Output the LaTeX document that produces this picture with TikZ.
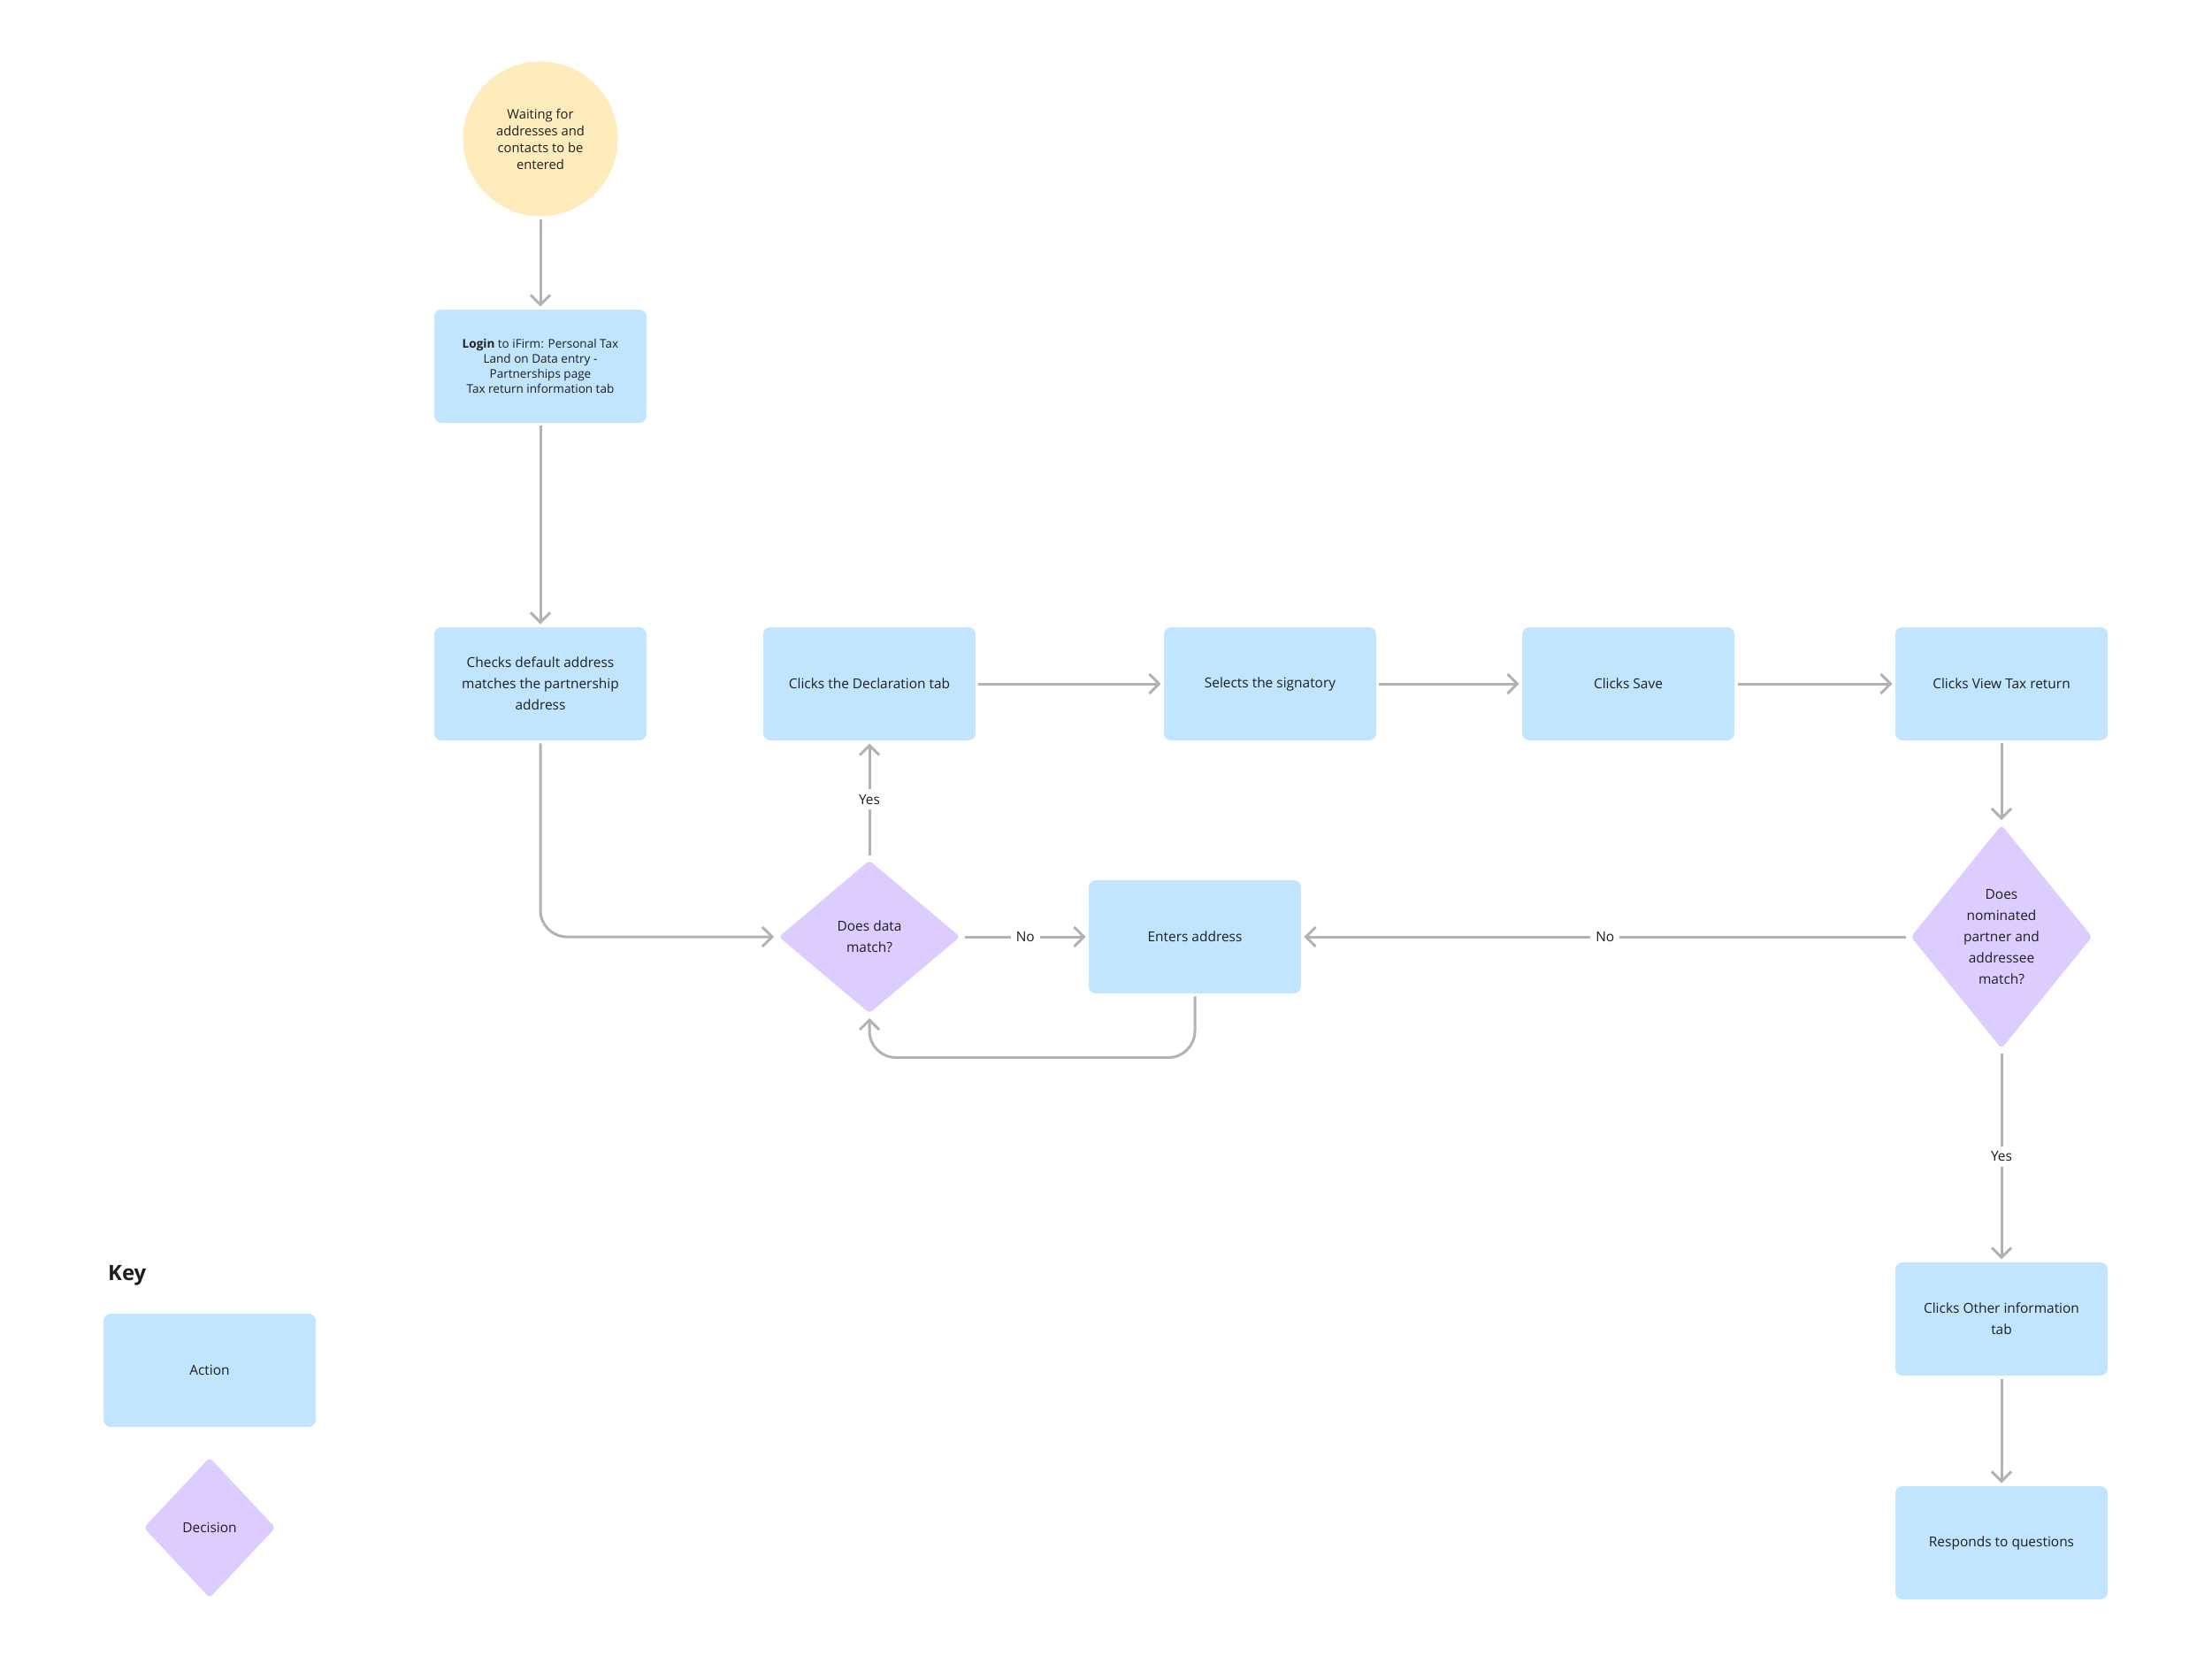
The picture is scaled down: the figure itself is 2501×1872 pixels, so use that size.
\documentclass[tikz,border=0pt]{standalone}
\usepackage{fontspec}
\setmainfont{Open Sans}
\usetikzlibrary{shapes.geometric,arrows.meta}

\definecolor{actblue}{HTML}{C2E5FF}
\definecolor{decpurple}{HTML}{DCCCFF}
\definecolor{startyellow}{HTML}{FFECBD}
\definecolor{linegray}{HTML}{B2B2B6}
\definecolor{txt}{HTML}{1E1E1E}

\begin{document}
\begin{tikzpicture}[x=0.02cm,y=-0.02cm,
  font=\fontsize{8.8}{13.6}\selectfont, text=txt,
  act/.style={rectangle, rounded corners=0.16cm, fill=actblue, minimum width=4.8cm,
    minimum height=2.56cm, align=center, outer sep=0.07cm},
  dec/.style={diamond, fill=decpurple, rounded corners=0.08cm, inner sep=0pt,
    align=center, outer sep=0.08cm},
  arr/.style={draw=linegray, line width=0.06cm,
    -{Straight Barb[length=0.22cm,width=0.44cm]}},
  lbl/.style={fill=white, inner sep=0.12cm}]

  \useasboundingbox (0,0) rectangle (2501,1872);

  % start
  \node[circle, fill=startyellow, minimum size=3.5cm, inner sep=0pt, align=center,
    outer sep=0.07cm, font=\fontsize{8.4}{10.8}\selectfont] (start) at (611,157)
    {Waiting for\\addresses and\\contacts to be\\entered};

  % actions
  \node[act, font=\fontsize{7.7}{9.6}\selectfont] (login) at (611,414)
    {\textbf{Login} to iFirm: Personal Tax\\Land on Data entry -\\Partnerships page\\Tax return information tab};
  \node[act] (checks) at (611,773) {Checks default address\\matches the partnership\\address};
  \node[act] (decl) at (983,773) {Clicks the Declaration tab};
  \node[act] (sign) at (1436,773) {Selects the signatory};
  \node[act] (save) at (1841,773) {Clicks Save};
  \node[act] (view) at (2263,773) {Clicks View Tax return};
  \node[act] (enters) at (1351,1059) {Enters address};
  \node[act] (other) at (2263,1491) {Clicks Other information\\tab};
  \node[act] (resp) at (2263,1744) {Responds to questions};

  % decisions
  \node[dec, minimum width=4.16cm, minimum height=3.52cm] (dec1) at (983,1059)
    {Does data\\match?};
  \node[dec, minimum width=4.16cm, minimum height=5.12cm] (dec2) at (2263,1059)
    {Does\\nominated\\partner and\\addressee\\match?};

  % pile
  \draw[arr] (start) -- (login);
  \draw[arr] (login) -- (checks);
  \draw[arr, rounded corners=0.6cm] (checks.south) |- (dec1.west);
  \draw[arr] (dec1) -- node[lbl] {Yes} (decl);
  \draw[arr] (dec1) -- node[lbl] {No} (enters);
  \draw[arr, rounded corners=0.6cm] (enters.south) -- ++(0,69) -| (dec1.south);
  \draw[arr] (decl) -- (sign);
  \draw[arr] (sign) -- (save);
  \draw[arr] (save) -- (view);
  \draw[arr] (view) -- (dec2);
  \draw[arr] (dec2) -- node[lbl] {No} (enters);
  \draw[arr] (dec2) -- node[lbl] {Yes} (other);
  \draw[arr] (other) -- (resp);

  % key
  \node[anchor=west, font=\fontsize{13.6}{16}\selectfont\bfseries] (key) at (116,1442) {Key};
  \node[act] (keyact) at (237,1549) {Action};
  \node[dec, minimum width=3.04cm, minimum height=3.24cm] (keydec) at (237,1727) {Decision};

\end{tikzpicture}
\end{document}
